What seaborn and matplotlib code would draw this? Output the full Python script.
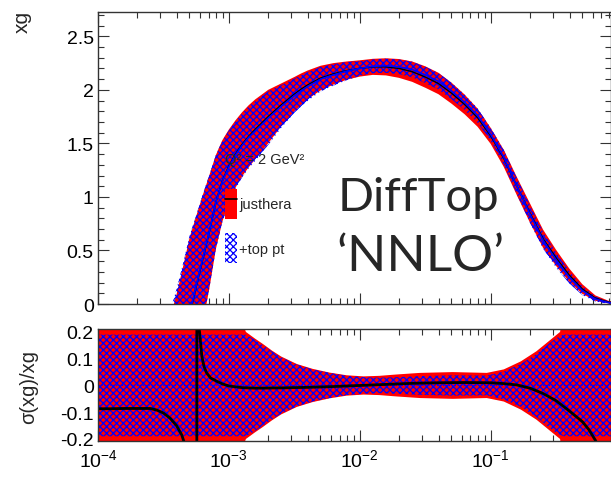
import numpy as np
import pandas as pd
import matplotlib
matplotlib.use("Agg")
import matplotlib.pyplot as plt
import seaborn as sns
from matplotlib.patches import Patch
from matplotlib.lines import Line2D
from matplotlib.legend_handler import HandlerTuple
from matplotlib.ticker import LogLocator, MultipleLocator, FuncFormatter, NullFormatter

# ---------------- data ----------------
# upper panel: xg at Q^2 = 2 GeV^2
logx_top = [-3.60, -3.55, -3.50, -3.45, -3.40, -3.35, -3.30, -3.25, -3.20, -3.15,
            -3.10, -3.05, -3.00, -2.95, -2.90, -2.85, -2.80, -2.75, -2.70, -2.65,
            -2.60, -2.55, -2.50, -2.45, -2.40, -2.30, -2.20, -2.10, -2.00, -1.90,
            -1.80, -1.70, -1.60, -1.50, -1.40, -1.30, -1.20, -1.10, -1.00, -0.90,
            -0.80, -0.70, -0.60, -0.50, -0.40, -0.30, -0.20, -0.10, 0.00]
xg_justhera = [-1.60, -1.38, -1.16, -0.93, -0.70, -0.41, -0.11, 0.16, 0.415, 0.67,
               0.95, 1.15, 1.29, 1.40, 1.49, 1.565, 1.63, 1.69, 1.75, 1.805,
               1.86, 1.91, 1.96, 2.005, 2.045, 2.11, 2.15, 2.18, 2.20, 2.215,
               2.215, 2.20, 2.17, 2.12, 2.06, 1.97, 1.865, 1.74, 1.57, 1.36,
               1.10, 0.85, 0.61, 0.43, 0.27, 0.14, 0.055, 0.018, 0.005]
xg_toppt = [-1.52, -1.30, -1.09, -0.87, -0.65, -0.38, -0.09, 0.17, 0.425, 0.675,
            0.95, 1.145, 1.28, 1.39, 1.48, 1.555, 1.615, 1.675, 1.735, 1.79,
            1.845, 1.895, 1.945, 1.99, 2.03, 2.10, 2.14, 2.175, 2.20, 2.22,
            2.225, 2.215, 2.19, 2.14, 2.08, 1.99, 1.885, 1.76, 1.585, 1.37,
            1.10, 0.84, 0.595, 0.41, 0.25, 0.125, 0.046, 0.013, 0.003]
err_justhera = [0.85, 0.84, 0.82, 0.80, 0.79, 0.76, 0.73, 0.66, 0.60, 0.53,
                0.44, 0.38, 0.34, 0.315, 0.30, 0.29, 0.28, 0.265, 0.25, 0.225,
                0.20, 0.18, 0.16, 0.147, 0.135, 0.115, 0.10, 0.085, 0.076, 0.075,
                0.08, 0.088, 0.095, 0.10, 0.10, 0.098, 0.092, 0.085, 0.075, 0.08,
                0.085, 0.09, 0.085, 0.075, 0.062, 0.045, 0.025, 0.012, 0.005]
err_toppt = [0.85, 0.84, 0.82, 0.80, 0.79, 0.76, 0.73, 0.66, 0.60, 0.53,
             0.44, 0.38, 0.34, 0.315, 0.30, 0.29, 0.28, 0.265, 0.25, 0.225,
             0.20, 0.18, 0.16, 0.147, 0.135, 0.115, 0.10, 0.085, 0.068, 0.064,
             0.066, 0.068, 0.073, 0.076, 0.077, 0.076, 0.072, 0.067, 0.06, 0.068,
             0.075, 0.082, 0.078, 0.07, 0.058, 0.042, 0.023, 0.011, 0.005]

# lower panel: relative uncertainty bands
logx_band = [-4.00, -2.95, -2.90, -2.87, -2.80, -2.74, -2.67, -2.60, -2.48, -2.36,
             -2.23, -2.10, -1.97, -1.85, -1.72, -1.54, -1.29, -1.03, -0.90, -0.77,
             -0.65, -0.52, -0.47, -0.44, 0.00]
rel_justhera = [0.30, 0.30, 0.24, 0.20, 0.175, 0.155, 0.13, 0.108, 0.08, 0.062,
                0.048, 0.038, 0.034, 0.036, 0.041, 0.047, 0.050, 0.047, 0.060, 0.090,
                0.128, 0.180, 0.200, 0.30, 0.30]
rel_toppt = [0.19, 0.19, 0.19, 0.19, 0.17, 0.15, 0.127, 0.105, 0.078, 0.060,
             0.047, 0.036, 0.031, 0.029, 0.031, 0.035, 0.038, 0.037, 0.052, 0.080,
             0.118, 0.170, 0.185, 0.19, 0.19]

# lower panel: central shift (+top pt vs justhera)
logx_ratio = [-4.00, -3.90, -3.80, -3.70, -3.60, -3.55, -3.50, -3.45, -3.40, -3.36,
              -3.33, -3.30, -3.28, -3.265, -3.252, -3.247, -3.243, -3.238, -3.228, -3.207,
              -3.19, -3.17, -3.14, -3.09, -3.05, -3.00, -2.90, -2.80, -2.60, -2.40,
              -2.20, -2.00, -1.80, -1.60, -1.40, -1.20, -1.00, -0.90, -0.80, -0.70,
              -0.60, -0.50, -0.40, -0.30, -0.25, -0.20, -0.15, -0.10]
ratio_shift = [-0.087, -0.087, -0.086, -0.086, -0.086, -0.092, -0.103, -0.122, -0.150, -0.185,
               -0.23, -0.33, -0.48, -0.80, -2.0, -20.0, 20.0, 0.50, 0.22, 0.11,
               0.07, 0.047, 0.028, 0.015, 0.006, -0.002, -0.008, -0.010, -0.009, -0.007,
               -0.004, 0.000, 0.004, 0.008, 0.010, 0.011, 0.010, 0.007, 0.002, -0.010,
               -0.030, -0.057, -0.095, -0.135, -0.165, -0.205, -0.26, -0.32]

# ---------------- frames ----------------
top = pd.DataFrame({"x": np.power(10.0, logx_top), "jh": xg_justhera, "tp": xg_toppt,
                    "ejh": err_justhera, "etp": err_toppt})
band = pd.DataFrame({"x": np.power(10.0, logx_band), "rjh": rel_justhera, "rtp": rel_toppt})
ratio = pd.DataFrame({"x": np.power(10.0, logx_ratio), "r": ratio_shift})

# ---------------- style ----------------
sns.set_style("ticks")
plt.rcParams.update({
    "axes.unicode_minus": False,
    "hatch.linewidth": 0.9,
    "axes.linewidth": 1.0,
    "axes.edgecolor": "#333333",
    "xtick.color": "#333333",
    "ytick.color": "#333333",
    "xtick.labelcolor": "black",
    "ytick.labelcolor": "black",
    "mathtext.fontset": "custom",
    "mathtext.rm": "Liberation Sans",
    "mathtext.it": "Liberation Sans:italic",
    "mathtext.bf": "Liberation Sans:bold",
})
plt.rcParams["font.family"] = ["Liberation Sans", "DejaVu Sans"]

RED = "#ff0000"
BLUE = "#0000ff"
HATCH = "xxxxx"
W, H = 611.0, 485.0
fig = plt.figure(figsize=(6.11, 4.85), dpi=100)
ax1 = fig.add_axes([98 / W, 1 - 305 / H, 513 / W, (305 - 12.7) / H])
ax2 = fig.add_axes([98 / W, 1 - 442 / H, 513 / W, (442 - 330) / H])

XMAX = 0.83
TICK_FS = 14

# ---------------- upper panel ----------------
ax1.fill_between(top["x"], top["jh"] - top["ejh"], top["jh"] + top["ejh"],
                 facecolor=RED, edgecolor="none", lw=0, zorder=1)
ax1.fill_between(top["x"], top["tp"] - top["etp"], top["tp"] + top["etp"],
                 facecolor="none", edgecolor=BLUE, hatch=HATCH, lw=0, zorder=2)
sns.lineplot(data=top, x="x", y="jh", ax=ax1, color="black", lw=1.0, zorder=3,
             estimator=None, sort=False, legend=False)
sns.lineplot(data=top, x="x", y="tp", ax=ax1, color=BLUE, lw=1.2, zorder=4,
             estimator=None, sort=False, legend=False)
ax1.set_xscale("log")
ax1.set_xlim(1e-4, XMAX)
ax1.set_ylim(0, 2.73)
ax1.yaxis.set_major_locator(MultipleLocator(0.5))
ax1.yaxis.set_minor_locator(MultipleLocator(0.1))
ax1.yaxis.set_major_formatter(FuncFormatter(lambda v, p: "%g" % v))
ax1.tick_params(labelbottom=False)
ax1.set_xlabel("")
ax1.set_ylabel("")

# legend
ax1.text((225 - 98) / 513, (305 - 160) / 292.3, "Q² = 2 GeV²", transform=ax1.transAxes,
         fontsize=10.5, ha="left", va="center", zorder=6)
handles = [(Patch(facecolor=RED, edgecolor="none", lw=0), Line2D([], [], color="black", lw=1.2)),
           Patch(facecolor="white", edgecolor=BLUE, hatch=HATCH, lw=0)]
ax1.legend(handles, ["justhera", "+top pt"], loc="upper left",
           bbox_to_anchor=((225 - 98) / 513, (305 - 190) / 292.3),
           frameon=False, fontsize=10.5, handlelength=0.82, handleheight=2.78,
           handletextpad=0.15, labelspacing=0.98, borderpad=0, borderaxespad=0,
           handler_map={tuple: HandlerTuple(ndivide=1, pad=0)})

ax1.text((338 - 98) / 513, (305 - 211) / 292.3, "DiffTop", transform=ax1.transAxes,
         fontsize=34, family=["Lato", "DejaVu Sans"], ha="left", va="baseline", zorder=6)
ax1.text((336 - 98) / 513, (305 - 271) / 292.3, "\u2018NNLO\u2019", transform=ax1.transAxes,
         fontsize=37, family=["Lato", "DejaVu Sans"], ha="left", va="baseline", zorder=6)

# ---------------- lower panel ----------------
ax2.fill_between(band["x"], -band["rjh"], band["rjh"],
                 facecolor=RED, edgecolor="none", lw=0, zorder=1)
ax2.fill_between(band["x"], -band["rtp"], band["rtp"],
                 facecolor="none", edgecolor=BLUE, hatch=HATCH, lw=0, zorder=2)
ax2.axhline(0, color=BLUE, lw=0.8, ls=":", zorder=3)
sns.lineplot(data=ratio, x="x", y="r", ax=ax2, color="black", lw=2.0, zorder=4,
             estimator=None, sort=False, legend=False)
ax2.set_xscale("log")
ax2.set_xlim(1e-4, XMAX)
ax2.set_ylim(-0.2075, 0.211)
ax2.yaxis.set_major_locator(MultipleLocator(0.1))
ax2.yaxis.set_minor_locator(MultipleLocator(0.02))
ax2.yaxis.set_major_formatter(FuncFormatter(lambda v, p: "%g" % round(v, 3)))
ax2.set_xlabel("")
ax2.set_ylabel("")

for ax in (ax1, ax2):
    ax.xaxis.set_major_locator(LogLocator(base=10, numticks=12))
    ax.xaxis.set_minor_locator(LogLocator(base=10, subs=np.arange(2, 10), numticks=12))
    ax.xaxis.set_minor_formatter(NullFormatter())
    ax.tick_params(which="both", direction="in", top=True, right=True,
                   labelsize=TICK_FS, width=0.8, pad=3)
    ax.tick_params(which="major", length=8)
    ax.tick_params(which="minor", length=4)
    for s in ax.spines.values():
        s.set_zorder(10)
ax2.tick_params(axis="x", which="major", pad=5)

fig.text(22 / W, 1 - 22 / H, "xg", rotation=90, fontsize=15, ha="center", va="center")
fig.text(29 / W, 1 - 387 / H, "σ(xg)/xg", rotation=90, fontsize=14.5, ha="center", va="center")

fig.savefig("out.png", dpi=100)
